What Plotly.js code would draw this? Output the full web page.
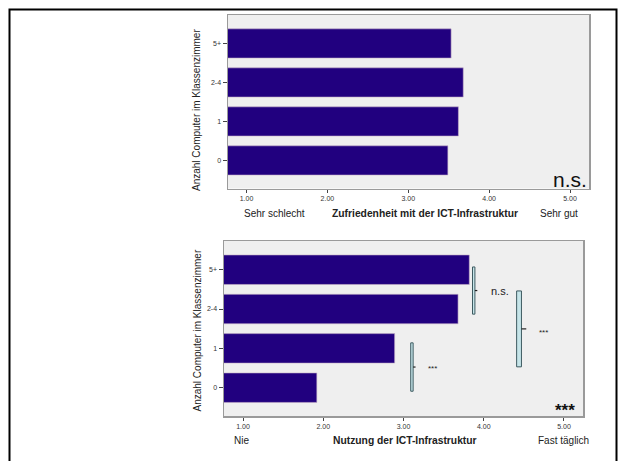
<!DOCTYPE html>
<html>
<head>
<meta charset="utf-8">
<script src="https://cdn.plot.ly/plotly-3.0.1.min.js"></script>
<style>html,body{margin:0;padding:0;background:#fff;}#chart{width:619px;height:461px;}</style>
</head>
<body>
<div id="chart"></div>
<script>
// ---- data ----
const categories = ['0', '1', '2-4', '5+'];
const satisfaction = [3.49, 3.62, 3.68, 3.53];
const usage = [1.92, 2.89, 3.68, 3.82];
const xTickVals = [1, 2, 3, 4, 5];
const xTickText = ['1.00', '2.00', '3.00', '4.00', '5.00'];
const yTitle = 'Anzahl Computer im Klassenzimmer';
const topLabels = ['Sehr schlecht', 'Zufriedenheit mit der ICT-Infrastruktur', 'Sehr gut'];
const bottomLabels = ['Nie', 'Nutzung der ICT-Infrastruktur', 'Fast täglich'];
const sigLabels = ['n.s.', 'n.s.', '***', '***', '***'];

// ---- layout helpers ----
const W = 619, H = 461;
const px = x => x / W;
const py = y => 1 - y / H;
const FONT = 'Liberation Sans, Arial, sans-serif';
const barColor = '#21007f';

function barTrace(vals, xa, ya) {
  return {
    type: 'bar', orientation: 'h',
    x: vals, y: categories, xaxis: xa, yaxis: ya,
    marker: {color: barColor, line: {color: '#c9b3c9', width: 0.6}},
    width: 0.75, hoverinfo: 'skip', showlegend: false
  };
}

const xBase = {
  tickvals: xTickVals, ticktext: xTickText,
  ticks: 'outside', ticklen: 3, tickwidth: 1, tickcolor: '#444',
  tickfont: {family: FONT, size: 7, color: '#333'},
  showgrid: false, zeroline: false,
  showline: true, mirror: true, linecolor: '#9a9a9a', linewidth: 1.5,
  fixedrange: true
};
const yBase = {
  type: 'category', categoryorder: 'array', categoryarray: categories,
  range: [-0.72, 3.73],
  ticks: 'outside', ticklen: 4, tickwidth: 1, tickcolor: '#444',
  tickfont: {family: FONT, size: 7, color: '#333'},
  showgrid: false, zeroline: false,
  showline: true, mirror: true, linecolor: '#9a9a9a', linewidth: 1.5,
  automargin: false, fixedrange: true
};

const layout = {
  width: W, height: H,
  margin: {l: 0, r: 0, t: 0, b: 0},
  paper_bgcolor: '#ffffff',
  plot_bgcolor: '#efefef',
  bargap: 0.25,
  showlegend: false,
  xaxis: Object.assign({}, xBase, {domain: [px(228), px(589)], range: [0.771, 5.235], anchor: 'y'}),
  yaxis: Object.assign({}, yBase, {domain: [py(188.5), py(15)], anchor: 'x'}),
  xaxis2: Object.assign({}, xBase, {domain: [px(224), px(583)], range: [0.763, 5.237], anchor: 'y2'}),
  yaxis2: Object.assign({}, yBase, {domain: [py(416), py(241)], anchor: 'x2'}),
  shapes: [],
  annotations: []
};

// outer frame
layout.shapes.push({type: 'rect', xref: 'paper', yref: 'paper',
  x0: px(9.5), x1: px(616.5), y0: py(475), y1: py(9.5),
  line: {color: '#000', width: 2}, fillcolor: 'rgba(0,0,0,0)', layer: 'above'});

// significance brackets on the lower chart: [x0, x1, y0, y1, tickEnd]
const brackets = [
  [3.86, 3.89, 1.87, 3.07, 3.92],
  [3.09, 3.12, -0.09, 1.14, 3.15],
  [4.41, 4.47, 0.53, 2.46, 4.53]
];
brackets.forEach(b => {
  layout.shapes.push({type: 'rect', xref: 'x2', yref: 'y2',
    x0: b[0], x1: b[1], y0: b[2], y1: b[3],
    fillcolor: '#c6e5e9', line: {color: '#3d5a60', width: 1}, layer: 'above'});
  const ym = (b[2] + b[3]) / 2;
  layout.shapes.push({type: 'line', xref: 'x2', yref: 'y2',
    x0: b[1], x1: b[4], y0: ym, y1: ym,
    line: {color: '#222', width: 1.2}, layer: 'above'});
});

function ann(text, x, y, size, opts) {
  layout.annotations.push(Object.assign({
    text: text, xref: 'paper', yref: 'paper', x: px(x), y: py(y),
    xanchor: 'center', yanchor: 'middle', showarrow: false,
    font: {family: FONT, size: size, color: '#222'}
  }, opts || {}));
}

// y axis titles
ann(yTitle, 197, 110, 10, {textangle: -90});
ann(yTitle, 196.5, 331, 10, {textangle: -90});

// axis end labels and titles
ann(topLabels[0], 274, 213, 10);
ann('<b>' + topLabels[1] + '</b>', 425, 213, 10.3);
ann(topLabels[2], 559, 213, 10);
ann(bottomLabels[0], 241, 440, 10);
ann('<b>' + bottomLabels[1] + '</b>', 405, 440, 10.3);
ann(bottomLabels[2], 563, 440, 10);

// significance labels
ann(sigLabels[0], 570, 180, 21, {font: {family: FONT, size: 21, color: '#111'}});
ann(sigLabels[1], 499.5, 290.5, 11);
ann(sigLabels[2], 432.5, 368, 8);
ann(sigLabels[3], 543.5, 332, 8);
ann('<b>' + sigLabels[4] + '</b>', 565, 410, 17, {font: {family: FONT, size: 17, color: '#111'}});

Plotly.newPlot('chart', [
  barTrace(satisfaction, 'x', 'y'),
  barTrace(usage, 'x2', 'y2')
], layout, {staticPlot: true, displayModeBar: false});
</script>
</body>
</html>
